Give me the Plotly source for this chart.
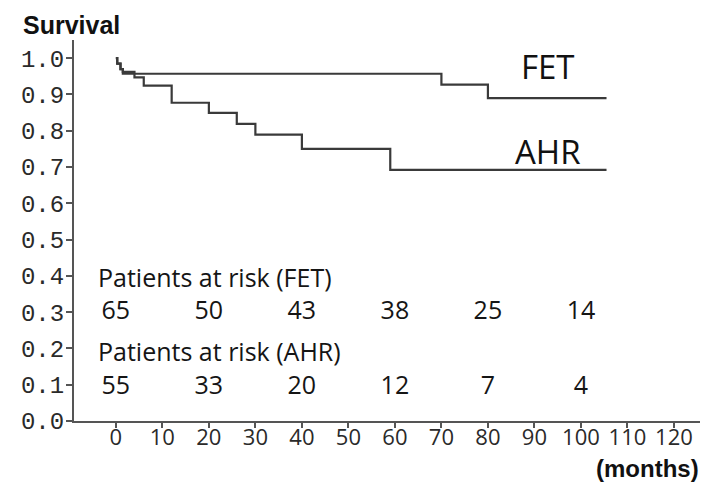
import plotly.graph_objects as go

# Kaplan-Meier step data (months, survival)
fet_t = [0, 0.3, 1.0, 1.5, 70, 80, 105.5]
fet_s = [1.0, 0.985, 0.97, 0.957, 0.927, 0.890, 0.890]

ahr_t = [0, 0.3, 1.0, 1.5, 4, 6, 12, 20, 26, 30, 40, 59, 105.5]
ahr_s = [1.0, 0.985, 0.97, 0.962, 0.947, 0.924, 0.877, 0.849, 0.819, 0.789, 0.750, 0.692, 0.692]

risk_times = [0, 20, 40, 60, 80, 100]
risk_fet = [65, 50, 43, 38, 25, 14]
risk_ahr = [55, 33, 20, 12, 7, 4]

x_ticks = [0, 10, 20, 30, 40, 50, 60, 70, 80, 90, 100, 110, 120]
y_ticks = [0.0, 0.1, 0.2, 0.3, 0.4, 0.5, 0.6, 0.7, 0.8, 0.9, 1.0]

line_color = "#3a3a3a"
txt_font = "Open Sans, Noto Sans, sans-serif"
txt_color = "#151515"

fig = go.Figure()
fig.add_trace(go.Scatter(x=fet_t, y=fet_s, mode="lines", line=dict(shape="hv", color=line_color, width=2.2),
                         name="FET", showlegend=False, hoverinfo="skip"))
fig.add_trace(go.Scatter(x=ahr_t, y=ahr_s, mode="lines", line=dict(shape="hv", color=line_color, width=2.2),
                         name="AHR", showlegend=False, hoverinfo="skip"))

# Numbers at risk
fig.add_trace(go.Scatter(x=risk_times, y=[0.298] * len(risk_times), mode="text",
                         text=[str(v) for v in risk_fet], textposition="middle center",
                         textfont=dict(family=txt_font, size=25, color=txt_color),
                         showlegend=False, hoverinfo="skip"))
fig.add_trace(go.Scatter(x=risk_times, y=[0.092] * len(risk_times), mode="text",
                         text=[str(v) for v in risk_ahr], textposition="middle center",
                         textfont=dict(family=txt_font, size=25, color=txt_color),
                         showlegend=False, hoverinfo="skip"))

# The page body adds an 8px offset, so the figure is sized 8px smaller
OFF = 8
W, H = 719 - OFF, 482 - OFF
L, R, T, B = 74 - OFF, 19, 40 - OFF, 61
pw, ph = W - L - R, H - T - B


def px_to_paper(px, py):
    # px, py in reference-window pixels
    return (px - OFF - L) / pw, (H - (py - OFF) - B) / ph


sx, sy = px_to_paper(71, 25)
mx, my = px_to_paper(647, 468)

annotations = [
    dict(x=-4.3, y=0.398, xref="x", yref="y", text="Patients at risk (FET)", showarrow=False,
         xanchor="left", yanchor="middle", font=dict(family=txt_font, size=25, color=txt_color)),
    dict(x=-4.3, y=0.193, xref="x", yref="y", text="Patients at risk (AHR)", showarrow=False,
         xanchor="left", yanchor="middle", font=dict(family=txt_font, size=25, color=txt_color)),
    dict(x=92.9, y=0.977, xref="x", yref="y", text="FET", showarrow=False,
         xanchor="center", yanchor="middle", font=dict(family=txt_font, size=33, color="#111")),
    dict(x=92.9, y=0.742, xref="x", yref="y", text="AHR", showarrow=False,
         xanchor="center", yanchor="middle", font=dict(family=txt_font, size=33, color="#111")),
    dict(x=sx, y=sy, xref="paper", yref="paper", text="<b>Survival</b>", showarrow=False,
         xanchor="center", yanchor="middle",
         font=dict(family="Liberation Sans, Arial, sans-serif", size=25, color="#111")),
    dict(x=mx, y=my, xref="paper", yref="paper", text="<b>(months)</b>", showarrow=False,
         xanchor="center", yanchor="middle",
         font=dict(family="Liberation Sans, Arial, sans-serif", size=24, color="#111")),
]

fig.update_layout(
    width=W, height=H,
    margin=dict(l=L, r=R, t=T, b=B, autoexpand=False),
    plot_bgcolor="white", paper_bgcolor="white",
    annotations=annotations,
    xaxis=dict(range=[-9.0, 125.6], tickmode="array", tickvals=x_ticks,
               ticktext=[str(v) for v in x_ticks], showgrid=False, zeroline=False,
               showline=True, linecolor="#555", linewidth=2, ticks="outside", ticklen=5,
               tickcolor="#555", tickwidth=1.5, automargin=False, ticklabelstandoff=-9,
               tickfont=dict(family=txt_font, size=22, color="#2a2a2a")),
    yaxis=dict(range=[0, 1.05], tickmode="array", tickvals=y_ticks,
               ticktext=[f"{v:.1f}" for v in y_ticks], showgrid=False, zeroline=False,
               showline=True, linecolor="#555", linewidth=2, ticks="outside", ticklen=6,
               tickcolor="#555", tickwidth=1.5, automargin=False, ticklabelstandoff=-3,
               tickfont=dict(family="Liberation Mono, Courier New, monospace", size=24, color="#2a2a2a")),
)

fig.write_html("out.html")
